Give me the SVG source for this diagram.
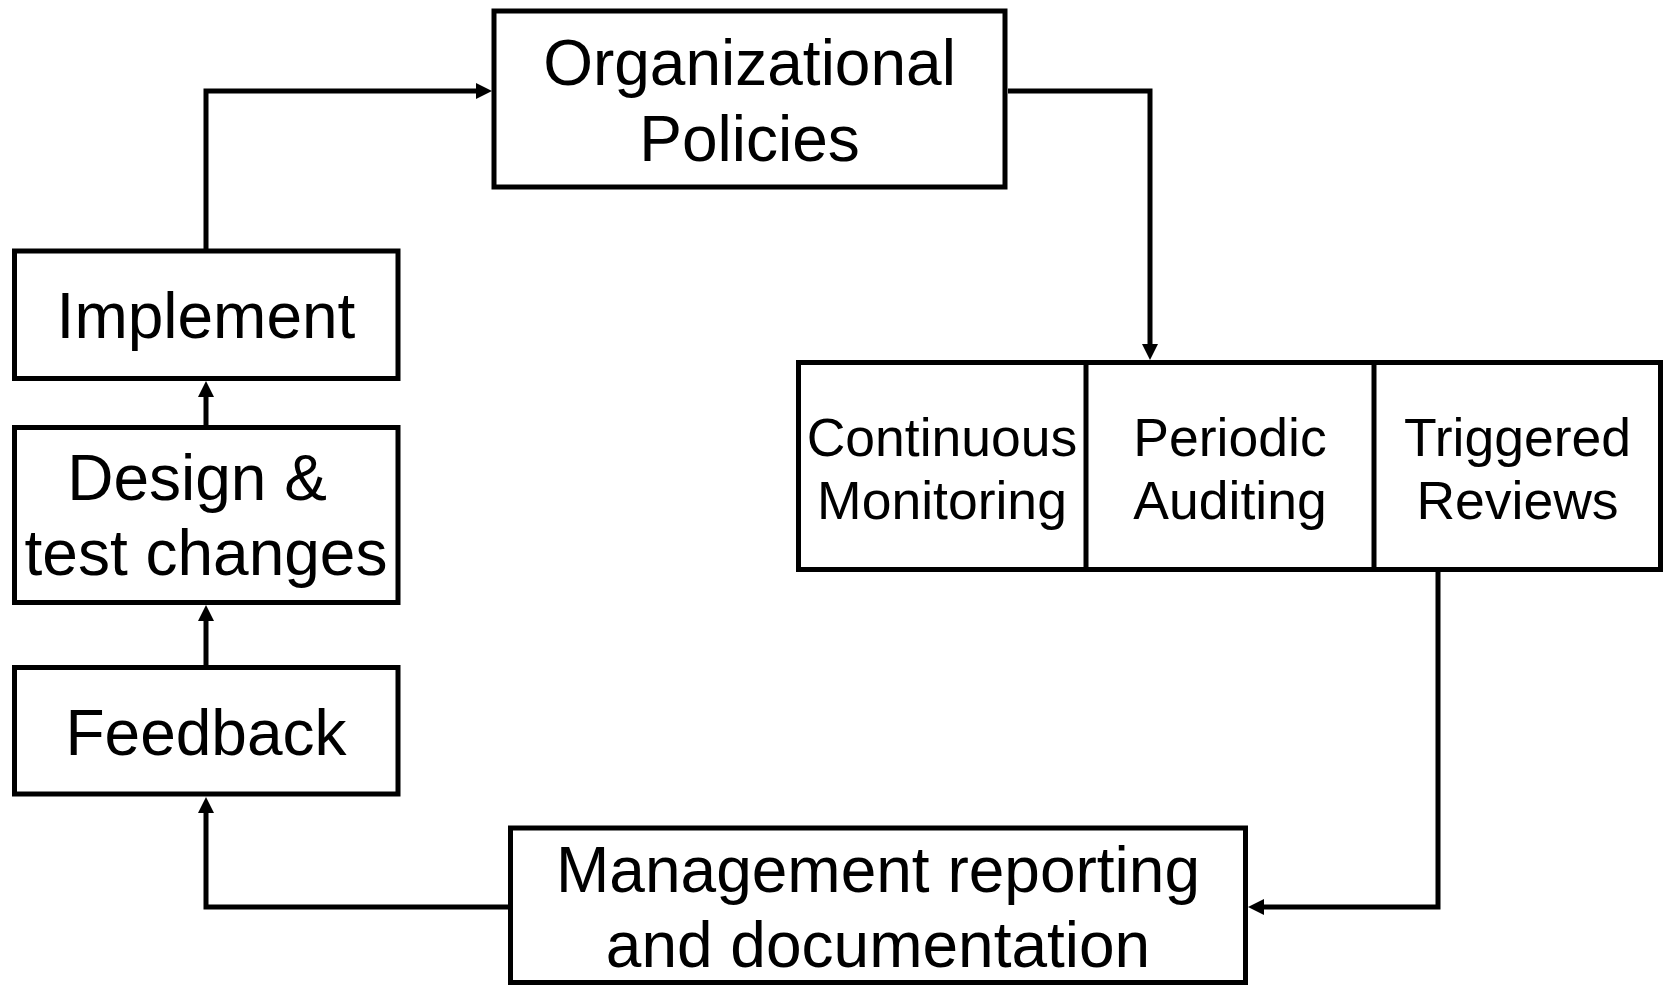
<svg xmlns="http://www.w3.org/2000/svg" width="1666" height="986" viewBox="0 0 1666 986">
  <style>
    .box { fill: #ffffff; stroke: #000000; stroke-width: 5; }
    .div { fill: none; stroke: #000000; stroke-width: 5; }
    .lbl { font-family: "Liberation Sans", Arial, Helvetica, sans-serif; font-size: 64px; fill: #000000; text-anchor: middle; }
    .sm { font-size: 53.5px; }
    .conn { fill: none; stroke: #000000; stroke-width: 5; stroke-linejoin: miter; }
  </style>
  <defs>
    <marker id="arrow" markerWidth="16" markerHeight="16" refX="8" refY="8" orient="auto" markerUnits="userSpaceOnUse">
      <path d="M0,0 L16,8 L0,16 z" fill="#000000"/>
    </marker>
  </defs>
  <rect width="1666" height="986" fill="#ffffff"/>

  <!-- connectors -->
  <g id="connectors">
    <path class="conn" d="M206,251 V91 H484" marker-end="url(#arrow)"/>
    <path class="conn" d="M1008,91 H1150 V352" marker-end="url(#arrow)"/>
    <path class="conn" d="M1438,571 V907 H1256" marker-end="url(#arrow)"/>
    <path class="conn" d="M508,907 H206 V805" marker-end="url(#arrow)"/>
    <path class="conn" d="M206,665 V613" marker-end="url(#arrow)"/>
    <path class="conn" d="M206,425 V389" marker-end="url(#arrow)"/>
  </g>

  <g id="org-policies">
    <rect class="box" x="494" y="11" width="511" height="176"/>
    <text class="lbl" x="749.5" y="85">Organizational</text>
    <text class="lbl" x="749.5" y="161">Policies</text>
  </g>

  <g id="implement">
    <rect class="box" x="14.5" y="251" width="383.5" height="127.5"/>
    <text class="lbl" x="206" y="338">Implement</text>
  </g>

  <g id="design-test">
    <rect class="box" x="14.5" y="427.5" width="383.5" height="175"/>
    <text class="lbl" x="197" y="500">Design &amp;</text>
    <text class="lbl" x="206" y="575">test changes</text>
  </g>

  <g id="feedback">
    <rect class="box" x="14.5" y="667.5" width="383.5" height="126.5"/>
    <text class="lbl" x="206" y="755">Feedback</text>
  </g>

  <g id="review-methods">
    <rect class="box" x="798.5" y="362.5" width="862" height="207"/>
    <line class="div" x1="1086" y1="362.5" x2="1086" y2="569.5"/>
    <line class="div" x1="1374" y1="362.5" x2="1374" y2="569.5"/>
    <g id="continuous-monitoring">
      <text class="lbl sm" x="942" y="456">Continuous</text>
      <text class="lbl sm" x="942" y="519">Monitoring</text>
    </g>
    <g id="periodic-auditing">
      <text class="lbl sm" x="1230" y="456">Periodic</text>
      <text class="lbl sm" x="1230" y="519">Auditing</text>
    </g>
    <g id="triggered-reviews">
      <text class="lbl sm" x="1517.5" y="456">Triggered</text>
      <text class="lbl sm" x="1517.5" y="519">Reviews</text>
    </g>
  </g>

  <g id="management-reporting">
    <rect class="box" x="510.5" y="828" width="735" height="154.5"/>
    <text class="lbl" x="878" y="892">Management reporting</text>
    <text class="lbl" x="878" y="967">and documentation</text>
  </g>
</svg>
